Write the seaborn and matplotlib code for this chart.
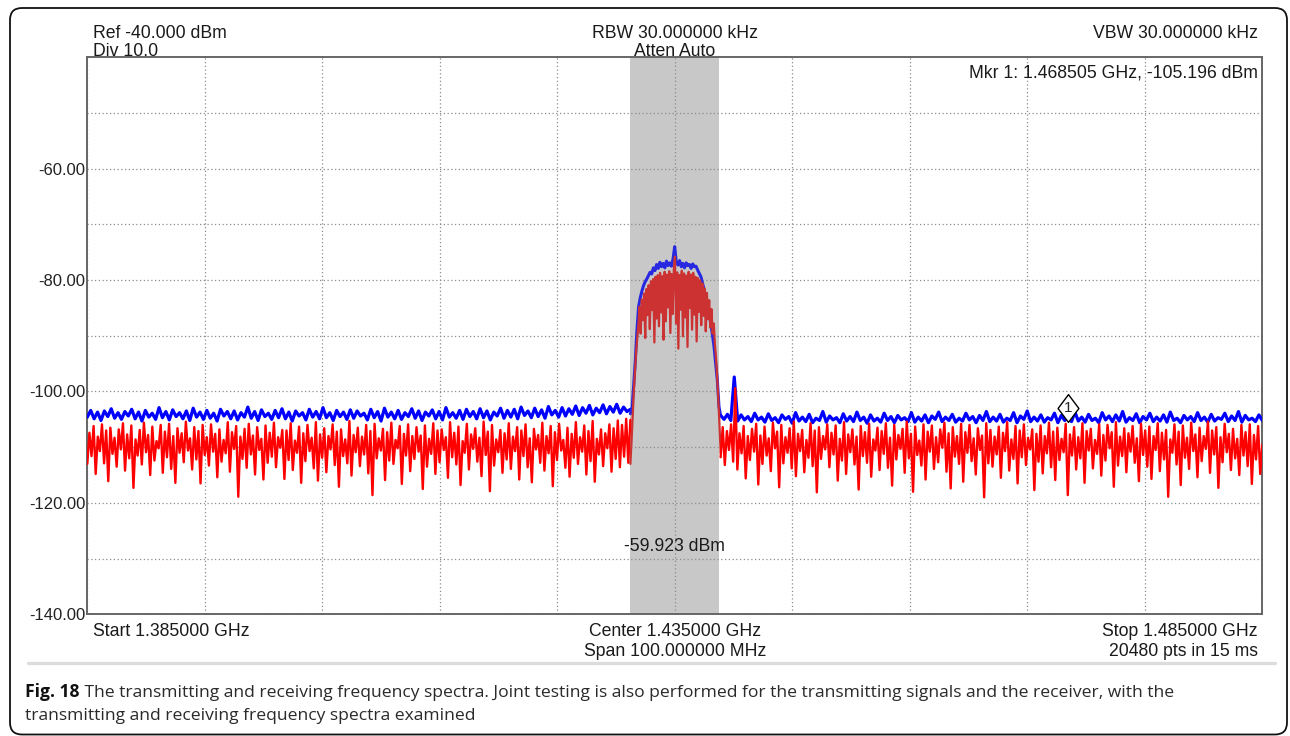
import numpy as np
import pandas as pd
import matplotlib
matplotlib.use("Agg")
import matplotlib.pyplot as plt
import matplotlib.transforms as mtrans
from matplotlib.patches import FancyBboxPatch
from matplotlib.path import Path
from matplotlib.lines import Line2D
import seaborn as sns

# ---------------- data ----------------
start_ghz = 1.385
stop_ghz = 1.485
band_lo = 1.43122
band_hi = 1.43879
band_edge_hi = 1.43890

red_left = [
    -113.0, -107.4, -111.6, -106.2, -114.8, -108.1, -110.7, -105.9, -112.9, -107.0, -116.1, -106.5, -111.2,
    -108.3, -113.5, -106.8, -110.4, -105.7, -114.2, -107.7, -112.0, -106.1, -117.3, -108.6, -111.5, -106.9,
    -113.1, -105.6, -110.9, -107.8, -115.0, -106.3, -112.4, -108.9, -110.2, -106.0, -114.6, -107.2, -111.8,
    -105.8, -113.9, -108.0, -116.4, -106.6, -111.0, -107.5, -112.7, -105.4, -110.6, -108.4, -114.0, -106.4,
    -112.2, -107.1, -116.5, -106.0, -111.4, -108.2, -113.3, -105.9, -110.8, -107.6, -115.4, -106.8, -112.6,
    -108.7, -111.1, -105.5, -114.4, -107.3, -110.3, -106.2, -118.9, -108.1, -112.1, -106.7, -113.7, -105.8,
    -111.3, -107.9, -114.9, -106.4, -110.5, -108.5, -115.8, -106.1, -112.8, -107.4, -111.7, -105.6, -113.6,
    -108.2, -110.1, -106.9, -115.7, -107.0, -112.3, -105.7, -114.1, -108.8, -111.0, -106.3, -116.4, -107.5,
    -112.5, -106.0, -110.7, -108.3, -113.8, -105.5, -116.0, -107.7, -111.9, -106.6, -114.5, -108.0, -110.4,
    -105.9, -113.2, -107.2, -117.1, -106.8, -111.6, -108.6, -112.9, -105.3, -115.1, -107.8, -110.9, -106.5,
    -113.4, -108.1, -111.3, -106.0, -114.7, -107.1, -118.6, -105.8, -112.0, -108.4, -110.6, -106.7, -115.9,
    -107.3, -112.4, -105.6, -113.0, -108.7, -110.2, -106.2, -116.6, -107.6, -111.5, -105.9, -114.3, -108.0,
    -112.1, -106.4, -110.8, -107.9, -117.5, -106.1, -113.5, -108.5, -111.2, -105.7, -114.8, -107.0, -112.7,
    -106.8, -110.5, -108.2, -115.5, -105.5, -111.8, -107.4, -113.1, -106.3, -116.8, -108.9, -111.0, -105.8,
    -114.0, -107.7, -110.3, -106.6, -112.6, -108.3, -115.2, -105.4, -111.4, -107.2, -117.9, -106.0, -113.3,
    -108.6, -110.9, -106.9, -114.6, -107.5, -112.2, -105.7, -113.9, -108.1, -110.7, -106.4, -115.8, -107.0,
    -111.6, -105.9, -113.6, -108.4, -116.3, -106.7, -110.4, -107.8, -112.8, -105.6, -114.2, -108.0, -111.1,
    -106.2, -117.0, -107.3, -112.3, -105.8, -110.6, -108.7, -113.7, -106.5, -115.3, -107.6, -111.9, -105.5,
    -113.0, -108.2, -110.8, -106.1, -114.9, -107.1, -112.5, -105.3, -116.2, -108.5, -111.3, -106.8, -113.4,
    -107.5, -110.2, -105.9, -114.4, -106.6, -112.1, -105.2, -113.6, -106.0, -111.7, -104.9, -112.8, -105.1,
]

red_band = [
    -113.0, -109.0, -104.5, -100.0, -96.5, -93.0, -90.5, -88.0, -84.8, -89.6,
    -83.5, -87.2, -82.4, -90.4, -81.6, -86.3, -80.9, -88.8, -80.2, -85.4,
    -79.8, -91.2, -79.4, -86.9, -79.1, -88.3, -78.7, -85.8, -79.3, -90.7,
    -78.5, -87.4, -79.0, -84.9, -78.4, -89.5, -78.9, -86.1, -78.2, -75.8,
    -87.8, -78.6, -92.3, -79.1, -85.3, -78.3, -90.1, -78.8, -86.7, -79.2,
    -92.0, -78.5, -85.0, -79.0, -88.9, -78.7, -86.2, -79.4, -91.0, -79.6,
    -85.7, -80.0, -88.1, -80.6, -86.4, -81.5, -89.2, -82.3, -87.0, -83.6,
    -88.5, -85.2, -89.6, -87.8, -91.5, -94.0, -97.5, -101.5, -106.0, -111.0,
]

red_right = [
    -111.8, -106.4, -113.2, -107.1, -110.5, -105.9, -112.6, -99.4, -114.0, -107.5, -111.1, -106.2, -115.6,
    -108.0, -112.3, -106.7, -110.8, -105.8, -116.7, -107.9, -113.0, -106.3, -111.5, -108.4, -114.3, -105.6,
    -110.2, -107.2, -117.2, -106.0, -112.9, -108.2, -111.0, -106.6, -113.8, -105.4, -115.2, -107.6, -110.7,
    -106.9, -114.5, -108.7, -111.9, -105.7, -113.4, -107.0, -118.1, -106.4, -112.1, -108.0, -110.4, -105.9,
    -113.6, -107.4, -111.3, -106.1, -116.0, -108.5, -112.4, -105.5, -114.8, -107.7, -110.9, -106.8, -113.1,
    -108.1, -117.6, -106.2, -111.6, -107.3, -112.8, -105.8, -115.3, -108.6, -110.6, -106.5, -114.1, -107.1,
    -111.2, -105.7, -113.7, -108.3, -116.9, -106.0, -112.2, -107.8, -110.3, -106.7, -114.6, -105.4, -112.0,
    -107.6, -118.0, -106.3, -111.4, -108.8, -113.3, -105.9, -115.8, -107.2, -110.8, -106.1, -113.9, -108.2,
    -112.7, -106.8, -110.1, -105.6, -114.4, -107.5, -117.4, -106.4, -111.7, -108.0, -113.0, -105.8, -116.2,
    -107.3, -111.0, -106.0, -112.5, -108.4, -114.9, -106.6, -110.5, -107.9, -119.0, -105.7, -112.9, -106.9,
    -113.5, -108.1, -111.3, -106.3, -115.5, -107.4, -110.7, -105.5, -114.2, -108.6, -112.1, -106.2, -116.5,
    -107.0, -111.8, -105.9, -113.2, -108.3, -110.4, -106.8, -117.7, -107.6, -112.6, -106.1, -114.7, -108.0,
    -111.1, -105.6, -113.6, -107.2, -115.9, -106.5, -112.3, -108.5, -110.9, -105.8, -118.6, -107.7, -111.5,
    -106.4, -114.0, -108.2, -112.0, -105.7, -116.4, -107.1, -110.6, -106.7, -113.8, -108.7, -111.2, -105.9,
    -115.1, -107.8, -112.4, -106.0, -110.2, -107.3, -117.1, -105.5, -113.3, -108.1, -111.6, -106.6, -114.5,
    -107.5, -110.8, -106.2, -112.8, -108.4, -116.1, -105.8, -111.4, -107.0, -113.5, -106.3, -115.7, -108.0,
    -110.5, -105.7, -114.3, -107.4, -112.2, -106.9, -118.9, -108.6, -111.0, -105.9, -113.1, -107.2, -116.8,
    -106.1, -111.9, -108.3, -113.9, -105.6, -110.7, -107.7, -115.4, -106.5, -112.5, -108.0, -110.3, -105.4,
    -114.6, -107.0, -111.3, -106.4, -117.3, -108.2, -112.7, -105.8, -110.9, -107.6, -114.1, -106.7, -112.0,
    -108.5, -115.0, -106.0, -111.5, -107.3, -113.4, -105.9, -116.6, -107.8, -112.2, -106.2, -114.8, -109.5,
]

blue_left = [
    -104.6, -103.4, -104.9, -103.7, -105.2, -103.5, -104.5, -103.1, -104.8, -103.8, -105.0, -103.6, -104.4, -103.2, -104.9, -103.7,
    -105.3, -103.4, -104.6, -103.9, -105.0, -102.9, -104.7, -103.6, -105.1, -103.3, -104.5, -103.8, -104.9, -103.5, -105.2, -103.0,
    -104.6, -103.7, -105.0, -103.4, -104.8, -103.9, -105.3, -103.2, -104.4, -103.6, -104.9, -103.5, -105.1, -103.8, -104.6, -102.8,
    -104.8, -103.6, -105.2, -103.3, -104.5, -103.9, -105.0, -103.4, -104.7, -103.1, -104.9, -103.7, -105.3, -103.5, -104.4, -103.8,
    -105.1, -103.2, -104.6, -103.6, -104.9, -102.9, -104.7, -103.8, -105.2, -103.4, -104.5, -103.7, -105.0, -103.3, -104.8, -103.5,
    -104.4, -103.9, -105.1, -103.2, -104.7, -103.6, -105.3, -103.0, -104.6, -103.7, -104.9, -103.4, -105.0, -103.8, -104.5, -103.1,
    -104.8, -103.5, -105.2, -103.7, -104.4, -103.3, -104.9, -103.6, -105.1, -102.9, -104.6, -103.8, -104.8, -103.4, -105.0, -103.2,
    -104.5, -103.6, -104.9, -103.1, -104.7, -103.5, -105.1, -103.7, -104.4, -103.0, -104.8, -103.4, -104.6, -103.2, -104.9, -102.8,
    -104.3, -103.5, -104.7, -103.0, -104.5, -103.3, -104.8, -102.7, -104.2, -103.4, -104.6, -102.9, -104.4, -103.1, -104.1, -102.6,
    -104.3, -102.9, -103.9, -102.5, -104.2, -103.0, -103.8, -102.4, -104.0, -102.7, -103.7, -102.3, -103.9, -102.8, -103.6, -103.2,
]

blue_band = [
    -104.0, -103.0, -99.0, -94.5, -89.0, -84.8, -83.2, -82.0, -81.0, -80.3,
    -79.8, -79.2, -78.6, -78.9, -77.8, -78.3, -77.2, -77.9, -76.8, -77.6,
    -77.0, -77.8, -76.6, -77.4, -76.9, -77.5, -76.2, -74.0, -76.8, -77.3,
    -76.5, -77.6, -77.0, -77.8, -76.9, -77.4, -77.2, -77.9, -77.1, -77.6,
    -77.5, -78.2, -78.8, -79.4, -80.6, -81.8, -83.0, -84.6, -86.2, -87.8,
    -89.8, -92.0, -95.0, -98.0, -102.7, -104.3,
]

blue_right = [
    -104.3, -105.0, -104.1, -105.2, -97.4, -105.3, -104.2, -105.1, -104.5, -105.4, -103.9, -105.1, -104.6, -105.5, -104.0, -105.2,
    -104.7, -105.6, -104.2, -105.0, -104.5, -105.7, -103.8, -105.3, -104.6, -105.4, -104.1, -105.6, -104.8, -105.2, -103.6, -105.5,
    -104.4, -105.1, -104.7, -105.6, -104.0, -105.3, -104.5, -105.4, -103.7, -105.2, -104.6, -105.7, -104.2, -105.3, -104.8, -105.5,
    -103.9, -105.2, -104.5, -105.6, -104.3, -105.1, -104.7, -105.4, -103.8, -105.5, -104.6, -105.3, -104.2, -105.6, -104.4, -105.0,
    -103.7, -105.4, -104.6, -105.2, -104.1, -105.5, -104.8, -105.3, -103.9, -105.1, -104.5, -105.6, -104.3, -105.2, -103.6, -105.4,
    -104.6, -105.3, -104.1, -105.5, -104.8, -105.2, -103.8, -105.6, -104.4, -105.0, -103.5, -105.4, -104.6, -105.3, -104.2, -105.5,
    -104.7, -105.1, -103.9, -105.6, -104.3, -105.2, -104.5, -105.4, -103.7, -105.3, -104.6, -105.5, -104.1, -105.2, -104.8, -105.6,
    -103.8, -105.1, -104.4, -105.4, -104.2, -105.3, -103.6, -105.5, -104.7, -105.2, -104.0, -105.6, -104.5, -105.1, -103.9, -105.4,
    -104.6, -105.3, -104.2, -105.5, -103.7, -105.2, -104.8, -105.6, -104.3, -105.1, -104.5, -105.4, -103.8, -105.2, -104.6, -105.5,
    -104.1, -105.3, -104.7, -105.0, -103.9, -105.4, -104.4, -105.2, -103.6, -105.5, -104.3, -105.1, -104.8, -105.4, -104.2, -105.2,
]

marker_freq = 1.468505
marker_level = -105.196

y_ticks = [-140, -130, -120, -110, -100, -90, -80, -70, -60, -50]
y_labels = ["-140.00", "", "-120.00", "", "-100.00", "", "-80.00", "", "-60.00", ""]

header_left = ["Ref -40.000 dBm", "Div 10.0"]
header_mid = ["RBW 30.000000 kHz", "Atten Auto"]
header_right = "VBW 30.000000 kHz"
marker_text = "Mkr 1: 1.468505 GHz, -105.196 dBm"
band_power_text = "-59.923 dBm"
footer_left = "Start 1.385000 GHz"
footer_mid = ["Center 1.435000 GHz", "Span 100.000000 MHz"]
footer_right = ["Stop 1.485000 GHz", "20480 pts in 15 ms"]
caption_bold = "Fig. 18"
caption_line1 = (" The transmitting and receiving frequency spectra. Joint testing is also "
                 "performed for the transmitting signals and the receiver, with the")
caption_line2 = "transmitting and receiving frequency spectra examined"


def frame(f0, f1, vals):
    return pd.DataFrame({"freq": np.linspace(f0, f1, len(vals)), "level": vals})


# ---------------- figure ----------------
sns.set_style("white")
plt.rcParams["font.family"] = ["Liberation Sans", "DejaVu Sans"]

W, H = 1290, 736
fig = plt.figure(figsize=(W / 100, H / 100), dpi=100)
fig.patch.set_facecolor("white")


def fx(px):
    return px / W


def fy(py):
    return 1 - py / H


ax = fig.add_axes([fx(87.3), fy(614.3), 1175 / W, 557 / H])
ax.set_xlim(start_ghz, stop_ghz)
ax.set_ylim(-140, -40)

ax.axvspan(band_lo, band_hi, color="#c8c8c8", lw=0, zorder=0)

traces = [
    (frame(start_ghz, band_lo, blue_left), "#0000ff", 2.3),
    (frame(band_lo, band_edge_hi, blue_band), "#2828e0", 2.2),
    (frame(band_edge_hi, stop_ghz, blue_right), "#0000ff", 2.3),
    (frame(start_ghz, band_lo, red_left), "#ff0000", 1.7),
    (frame(band_lo, band_edge_hi, red_band), "#cc3232", 1.6),
    (frame(band_edge_hi, stop_ghz, red_right), "#ff0000", 1.7),
]
for df, col, lw in traces:
    sns.lineplot(data=df, x="freq", y="level", color=col, lw=lw,
                 estimator=None, sort=False, ax=ax, zorder=3)

ax.set_xticks(np.linspace(start_ghz, stop_ghz, 11))
ax.set_xticklabels([])
ax.set_yticks(y_ticks)
ax.set_yticklabels(y_labels)
ax.set_xlabel("")
ax.set_ylabel("")
ax.tick_params(length=0, pad=1.5, labelsize=12, labelcolor="#222222")
ax.grid(True, ls=(0, (1, 2)), color="#8c8c8c", lw=0.9)
ax.set_axisbelow(True)
for s in ax.spines.values():
    s.set_visible(True)
    s.set_color("#666666")
    s.set_linewidth(1.4)

# marker diamond
diamond = Path([(0, 1), (0.75, 0), (0, -1), (-0.75, 0), (0, 1)],
               [Path.MOVETO, Path.LINETO, Path.LINETO, Path.LINETO, Path.CLOSEPOLY])
off = mtrans.ScaledTranslation(0, 12 / 100, fig.dpi_scale_trans)
ax.plot([marker_freq], [marker_level], marker=diamond, ms=20, mfc="white",
        mec="black", mew=1.0, ls="none", transform=ax.transData + off, zorder=5)
ax.text(marker_freq, marker_level, "1", ha="center", va="center", fontsize=11,
        transform=ax.transData + off, zorder=6)

# instrument annotations
tc = "#1a1a1a"
fs = 12.7
fig.text(fx(93), fy(37.5), header_left[0], ha="left", va="baseline", fontsize=fs, color=tc)
fig.text(fx(93), fy(55.5), header_left[1], ha="left", va="baseline", fontsize=fs, color=tc)
fig.text(fx(675), fy(37.5), header_mid[0], ha="center", va="baseline", fontsize=fs, color=tc)
fig.text(fx(675), fy(55.5), header_mid[1], ha="center", va="baseline", fontsize=fs, color=tc)
fig.text(fx(1258), fy(37.5), header_right, ha="right", va="baseline", fontsize=fs, color=tc)
fig.text(fx(1258), fy(77), marker_text, ha="right", va="baseline", fontsize=fs, color=tc)
fig.text(fx(674), fy(551), band_power_text, ha="center", va="baseline", fontsize=fs, color=tc)
fig.text(fx(93), fy(636), footer_left, ha="left", va="baseline", fontsize=fs, color=tc)
fig.text(fx(675), fy(636), footer_mid[0], ha="center", va="baseline", fontsize=fs, color=tc)
fig.text(fx(675), fy(656), footer_mid[1], ha="center", va="baseline", fontsize=fs, color=tc)
fig.text(fx(1258), fy(636), footer_right[0], ha="right", va="baseline", fontsize=fs, color=tc)
fig.text(fx(1258), fy(656), footer_right[1], ha="right", va="baseline", fontsize=fs, color=tc)

# separator line
fig.add_artist(Line2D([fx(28), fx(1275)], [fy(662.5), fy(662.5)],
                      transform=fig.transFigure, color="#dcdcdc", lw=2.4))

# caption
cap_font = ["Open Sans", "DejaVu Sans"]
cap_fs = 12.6
t_bold = fig.text(fx(25), fy(697), caption_bold, ha="left", va="baseline",
                  fontsize=cap_fs, fontweight="bold", family=cap_font, color="#111111")
fig.canvas.draw()
bb = t_bold.get_window_extent(renderer=fig.canvas.get_renderer())
fig.text(bb.x1 / W, fy(697), caption_line1, ha="left", va="baseline",
         fontsize=cap_fs, family=cap_font, color="#2a2a2a")
fig.text(fx(25), fy(720), caption_line2, ha="left", va="baseline",
         fontsize=cap_fs, family=cap_font, color="#2a2a2a")

# outer rounded border
border = FancyBboxPatch((10, 1.5), 1277, 726.5,
                        boxstyle="round,pad=0,rounding_size=12",
                        transform=mtrans.IdentityTransform(),
                        fill=False, ec="#111111", lw=1.3)
fig.add_artist(border)

fig.savefig("out.png", dpi=100)
